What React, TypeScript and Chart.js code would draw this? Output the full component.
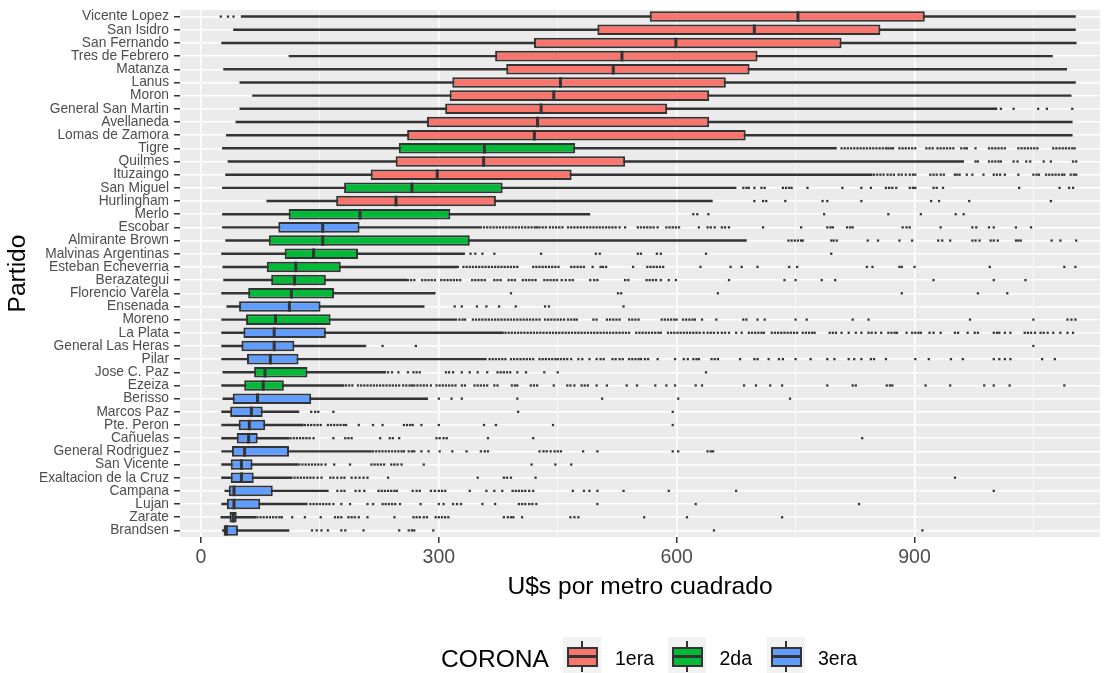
import React, { useEffect, useRef } from "react";
import { Chart, registerables } from "chart.js";

Chart.register(...registerables);

const FONT = "'Liberation Sans', Arial, Helvetica, sans-serif";

const categories = [
  "Vicente Lopez", "San Isidro", "San Fernando", "Tres de Febrero", "Matanza",
  "Lanus", "Moron", "General San Martin", "Avellaneda", "Lomas de Zamora",
  "Tigre", "Quilmes", "Ituzaingo", "San Miguel", "Hurlingham",
  "Merlo", "Escobar", "Almirante Brown", "Malvinas Argentinas", "Esteban Echeverria",
  "Berazategui", "Florencio Varela", "Ensenada", "Moreno", "La Plata",
  "General Las Heras", "Pilar", "Jose C. Paz", "Ezeiza", "Berisso",
  "Marcos Paz", "Pte. Peron", "Cañuelas", "General Rodriguez", "San Vicente",
  "Exaltacion de la Cruz", "Campana", "Lujan", "Zarate", "Brandsen",
];

const corona = [
  "1era", "1era", "1era", "1era", "1era",
  "1era", "1era", "1era", "1era", "1era",
  "2da", "1era", "1era", "2da", "1era",
  "2da", "3era", "2da", "2da", "2da",
  "2da", "2da", "3era", "2da", "3era",
  "3era", "3era", "2da", "2da", "3era",
  "3era", "3era", "3era", "3era", "3era",
  "3era", "3era", "3era", "3era", "3era",
];

const whiskerLow = [
  50.7, 41, 26, 111, 28.5, 49, 65, 49, 44, 32,
  27, 34, 31, 27, 83, 27, 27, 31, 26, 27.5,
  28.5, 26, 32.5, 26, 26, 26, 26, 27.5, 26, 27.5,
  26, 26, 26, 26, 26, 26, 30, 26, 25, 27,
];
const q1 = [
  566, 500, 420, 371, 385, 317, 313.6, 308, 285, 260,
  249.5, 245.5, 214, 180.5, 170.5, 110.5, 97.5, 85.5, 105.5, 83,
  88.5, 59.5, 48, 56.8, 53.5, 51, 58, 67, 54.5, 40,
  36.8, 47.5, 45, 39, 37.5, 37.5, 35, 32.6, 36, 28.5,
];
const median = [
  753, 698, 599, 531, 520, 453.5, 445, 429, 424.5, 420.5,
  357.5, 356.5, 298, 266, 246, 200.5, 153.5, 153.5, 142, 119.5,
  118, 114, 111.5, 94, 92.3, 92.3, 87.5, 80.7, 78.5, 71.3,
  63.5, 61, 60, 55, 51, 51, 41.6, 41.6, 40.7, 32,
];
const q3 = [
  913, 857, 808, 702, 692, 662, 641, 588, 641, 687,
  472, 535, 467.5, 380.5, 372, 314.5, 200, 339, 198, 176.3,
  157.5, 167.8, 150.8, 163.5, 157.5, 117.8, 123, 134.3, 104.5, 139,
  77.8, 81, 71.5, 111, 65, 66.5, 90.5, 74.7, 45, 46.6,
];
const whiskerHigh = [
  1103, 1103, 1104, 1074, 1092, 1103, 1097.6, 1004, 1099, 1099,
  801.5, 962, 846.7, 675, 645, 490.5, 354, 688, 332.5, 322.5,
  259.5, 295.5, 281.5, 322.8, 381.5, 208, 360, 233, 180.5, 286,
  123.5, 129, 111, 215, 122, 115, 160.6, 134, 69, 111,
];

const outliers: number[][] = [
  [25, 34, 41],
  [],
  [],
  [],
  [],
  [],
  [],
  [1009, 1025, 1056, 1067, 1099],
  [],
  [],
  [808, 812, 816, 820, 824, 828, 832, 836, 840, 844, 848, 852, 856, 860, 864, 867, 870, 873, 881, 885, 889, 893, 897, 901, 915, 919, 923, 929, 933, 937, 941, 945, 949, 959, 963, 966, 977, 994, 998, 1002, 1006, 1010, 1014, 1031, 1035, 1039, 1043, 1047, 1051, 1055, 1075, 1079, 1083, 1087, 1091, 1095, 1099, 1102],
  [977, 980, 994, 998, 1002, 1006, 1009, 1025, 1030, 1041, 1046, 1063, 1072, 1100, 1104],
  [849, 853, 857, 861, 866, 870, 874, 880, 884, 889, 894, 898, 901, 920, 924, 928, 933, 937, 951, 954, 957, 966, 973, 987, 1000, 1004, 1008, 1014, 1031, 1050, 1054, 1057, 1066, 1070, 1074, 1078, 1082, 1086, 1089, 1097, 1101, 1104],
  [684, 688, 691, 698, 707, 711, 734, 738, 742, 745, 765, 809, 833, 845, 864, 868, 872, 877, 894, 898, 901, 924, 928, 936, 1032, 1083, 1095, 1100],
  [698, 709, 713, 737, 784, 790, 833, 921, 931, 969, 1072],
  [621, 626, 640, 786, 867, 908, 952, 962],
  [357, 361, 365, 369, 373, 377, 381, 385, 389, 393, 397, 401, 405, 409, 413, 417, 421, 424, 427, 431, 435, 440, 444, 448, 452, 456, 463, 467, 471, 475, 479, 483, 487, 491, 495, 499, 503, 507, 511, 515, 519, 523, 528, 535, 551, 555, 559, 563, 567, 571, 576, 587, 591, 595, 599, 603, 628, 639, 643, 648, 657, 661, 666, 709, 757, 790, 794, 797, 815, 819, 822, 885, 890, 894, 933, 973, 978, 994, 1000, 1028, 1047],
  [741, 745, 749, 753, 757, 759, 795, 798, 802, 841, 854, 881, 897, 930, 935, 945, 973, 977, 982, 996, 1000, 1005, 1028, 1031, 1034, 1073, 1084, 1104],
  [340, 346, 355, 370, 429, 498, 503, 551, 555, 575, 580, 637, 795],
  [324, 331, 335, 339, 343, 347, 351, 355, 359, 363, 367, 371, 375, 379, 383, 387, 391, 395, 399, 419, 423, 427, 431, 435, 439, 443, 447, 451, 467, 471, 475, 479, 483, 494, 504, 507, 511, 545, 563, 567, 571, 575, 579, 583, 630, 668, 682, 702, 742, 752, 840, 847, 881, 884, 900, 995, 1089, 1103],
  [261, 265, 269, 279, 283, 287, 291, 295, 303, 307, 311, 315, 319, 323, 327, 342, 346, 350, 354, 358, 370, 374, 378, 388, 392, 396, 406, 410, 414, 418, 422, 433, 437, 441, 445, 449, 455, 460, 465, 469, 491, 496, 500, 535, 539, 562, 566, 570, 574, 580, 590, 599, 666, 736, 750, 783, 800, 924, 1000, 1040],
  [391, 526, 530, 652, 884, 980, 1017],
  [320, 329, 348, 360, 376, 397, 434, 439, 533],
  [326, 330, 333, 343, 347, 351, 355, 359, 363, 367, 371, 375, 379, 383, 387, 391, 395, 399, 403, 407, 411, 415, 419, 423, 427, 434, 438, 442, 446, 450, 454, 458, 463, 467, 471, 474, 495, 499, 512, 516, 520, 524, 528, 540, 544, 548, 552, 581, 585, 589, 593, 597, 600, 608, 612, 616, 620, 623, 632, 650, 684, 688, 702, 711, 750, 764, 822, 842, 970, 1050, 1093, 1098, 1103],
  [384, 388, 392, 396, 400, 404, 408, 412, 416, 420, 424, 428, 432, 436, 440, 444, 448, 452, 456, 460, 464, 468, 472, 476, 480, 484, 488, 492, 496, 500, 504, 508, 512, 516, 520, 524, 528, 532, 536, 540, 549, 553, 557, 561, 565, 569, 573, 577, 580, 589, 593, 597, 601, 605, 609, 613, 617, 621, 625, 629, 634, 639, 643, 647, 652, 657, 661, 666, 675, 682, 691, 695, 699, 703, 707, 710, 720, 724, 728, 732, 736, 740, 744, 748, 752, 759, 763, 767, 771, 774, 793, 797, 801, 808, 817, 826, 833, 842, 846, 851, 858, 867, 871, 875, 878, 890, 897, 901, 905, 908, 919, 924, 933, 951, 955, 967, 976, 980, 1000, 1004, 1007, 1014, 1021, 1039, 1043, 1047, 1052, 1059, 1063, 1068, 1075, 1084, 1093, 1100],
  [229, 271, 1050],
  [364, 368, 372, 376, 380, 384, 391, 395, 399, 403, 407, 411, 415, 419, 427, 431, 435, 439, 443, 447, 450, 454, 458, 462, 467, 476, 481, 490, 499, 504, 508, 519, 523, 528, 532, 540, 544, 548, 552, 555, 560, 564, 576, 598, 609, 614, 621, 625, 628, 644, 648, 652, 680, 698, 702, 716, 729, 734, 750, 769, 790, 799, 817, 824, 833, 845, 849, 864, 901, 918, 946, 961, 1000, 1007, 1014, 1021, 1061, 1077],
  [236, 241, 249, 261, 268, 272, 276, 309, 313, 318, 329, 339, 349, 361, 374, 378, 382, 386, 390, 399, 410, 433, 450, 637],
  [183, 187, 191, 198, 202, 206, 210, 214, 218, 222, 226, 230, 234, 238, 242, 246, 250, 255, 259, 263, 266, 269, 273, 277, 281, 285, 290, 297, 301, 305, 309, 313, 317, 321, 329, 333, 345, 349, 353, 357, 361, 370, 374, 392, 396, 399, 416, 420, 424, 445, 462, 466, 471, 480, 484, 488, 499, 512, 537, 550, 573, 587, 598, 624, 632, 685, 700, 718, 733, 790, 822, 826, 865, 869, 872, 914, 945, 988, 1000, 1020, 1089],
  [300, 316, 329, 399, 506, 602, 743],
  [139, 144, 148, 167, 400, 595],
  [131, 135, 139, 143, 147, 151, 160, 164, 168, 172, 176, 180, 183, 199, 217, 229, 256, 260, 264, 267, 278, 300, 357, 372, 444, 595],
  [113, 117, 121, 125, 129, 133, 137, 142, 167, 182, 186, 190, 226, 238, 242, 250, 297, 301, 306, 310, 362, 419, 834],
  [217, 221, 225, 229, 233, 237, 241, 245, 249, 253, 256, 262, 266, 269, 278, 287, 301, 317, 335, 353, 358, 362, 427, 432, 436, 441, 446, 450, 454, 482, 500, 595, 602, 639, 643, 646],
  [124, 128, 132, 136, 140, 144, 148, 152, 157, 168, 188, 215, 219, 223, 227, 231, 240, 244, 248, 253, 281, 417, 447, 467],
  [118, 122, 126, 130, 134, 138, 142, 147, 152, 163, 167, 172, 177, 181, 190, 195, 200, 205, 210, 236, 349, 382, 386, 391, 422, 951],
  [172, 177, 181, 195, 200, 206, 224, 228, 232, 236, 240, 244, 247, 267, 272, 276, 290, 295, 300, 304, 308, 339, 360, 370, 380, 393, 397, 401, 405, 409, 414, 419, 469, 483, 490, 500, 533, 590, 675, 1000],
  [138, 142, 146, 150, 154, 158, 162, 167, 177, 188, 210, 217, 229, 233, 237, 241, 245, 251, 277, 300, 306, 318, 323, 328, 355, 371, 401, 405, 409, 414, 418, 423, 500, 624, 830],
  [71, 75, 79, 83, 87, 91, 95, 99, 102, 115, 131, 151, 169, 173, 177, 186, 190, 194, 199, 210, 244, 268, 272, 276, 281, 285, 296, 300, 304, 308, 312, 382, 387, 391, 394, 405, 466, 471, 476, 559, 613, 733],
  [140, 146, 152, 160, 177, 182, 205, 250, 262, 266, 269, 293, 647, 910],
];

const xTickLabels = [0, 300, 600, 900];
const groups = ["1era", "2da", "3era"];
const groupColors: Record<string, string> = {
  "1era": "#F8766D",
  "2da": "#00BA38",
  "3era": "#619CFF",
};

const DARK = "#333333";

const panelBg = {
  id: "panelBg",
  beforeDraw(chart: any) {
    const { ctx, chartArea } = chart;
    ctx.save();
    ctx.fillStyle = "#EBEBEB";
    ctx.fillRect(chartArea.left, chartArea.top, chartArea.right - chartArea.left, chartArea.bottom - chartArea.top);
    ctx.restore();
  },
};

const medianLines = {
  id: "medianLines",
  afterDatasetDraw(chart: any, args: any) {
    if (args.index !== 1) return;
    const { ctx } = chart;
    const xScale = chart.scales.x;
    ctx.save();
    ctx.strokeStyle = DARK;
    ctx.lineWidth = 3;
    ctx.lineCap = "butt";
    args.meta.data.forEach((el: any, i: number) => {
      const x = xScale.getPixelForValue(median[i]);
      const h = el.height;
      ctx.beginPath();
      ctx.moveTo(x, el.y - h / 2);
      ctx.lineTo(x, el.y + h / 2);
      ctx.stroke();
    });
    ctx.restore();
  },
};

function LegendKey({ color, left }: { color: string; left: number }) {
  return (
    <div style={{ position: "absolute", left, top: 637, width: 38, height: 38, background: "#F2F2F2" }}>
      <div style={{ position: "absolute", left: 18.1, top: 4, width: 1.8, height: 6, background: DARK }} />
      <div style={{ position: "absolute", left: 18.1, top: 29, width: 1.8, height: 6, background: DARK }} />
      <div
        style={{
          position: "absolute",
          left: 3.5,
          top: 9.5,
          width: 31,
          height: 20,
          boxSizing: "border-box",
          border: `2px solid ${DARK}`,
          background: color,
        }}
      />
      <div style={{ position: "absolute", left: 3.5, top: 18.25, width: 31, height: 2.5, background: DARK }} />
    </div>
  );
}

export default function App() {
  const ref = useRef<HTMLCanvasElement>(null);

  useEffect(() => {
    const outlierPoints = outliers.flatMap((vals, i) => vals.map((v) => ({ x: v, y: categories[i] })));
    const chart = new Chart(ref.current as HTMLCanvasElement, {
      type: "bar",
      data: {
        labels: categories,
        datasets: [
          {
            label: "whiskers",
            data: categories.map((_, i) => [whiskerLow[i], whiskerHigh[i]]) as any,
            backgroundColor: DARK,
            borderWidth: 0,
            barThickness: 1.8,
            grouped: false,
            order: 3,
          } as any,
          {
            label: "boxes",
            data: categories.map((_, i) => [q1[i], q3[i]]) as any,
            backgroundColor: corona.map((c) => groupColors[c]),
            borderColor: DARK,
            borderWidth: 2,
            borderSkipped: false,
            barPercentage: 0.8,
            categoryPercentage: 1,
            grouped: false,
            order: 2,
          } as any,
          {
            type: "scatter",
            label: "outliers",
            data: outlierPoints as any,
            pointStyle: "rect",
            pointRadius: 1.6,
            pointBackgroundColor: DARK,
            backgroundColor: DARK,
            pointBorderWidth: 0,
            borderWidth: 0,
            showLine: false,
            order: 1,
          } as any,
        ],
      },
      options: {
        indexAxis: "y",
        responsive: false,
        animation: false,
        devicePixelRatio: 1,
        events: [],
        layout: { padding: { top: 10, right: 8, bottom: 63, left: 0 } },
        plugins: {
          legend: { display: false },
          tooltip: { enabled: false },
        },
        scales: {
          x: {
            type: "linear",
            min: -26.5,
            max: 1134,
            border: { display: false },
            ticks: {
              stepSize: 150,
              includeBounds: false,
              autoSkip: false,
              maxRotation: 0,
              color: "#4D4D4D",
              font: { family: FONT, size: 19.5 },
              padding: 3,
              callback: (v: any) => (xTickLabels.includes(Number(v)) ? String(v) : ""),
            },
            grid: {
              color: "#FFFFFF",
              lineWidth: (ctx: any) => (ctx.tick && xTickLabels.includes(ctx.tick.value) ? 1.5 : 0.75),
              tickColor: (ctx: any) => (ctx.tick && xTickLabels.includes(ctx.tick.value) ? DARK : "rgba(0,0,0,0)"),
              tickLength: 6,
              tickWidth: 1.5,
            },
            title: {
              display: true,
              text: "U$s por metro cuadrado",
              color: "#000000",
              font: { family: FONT, size: 24.6 },
              padding: { top: 0, bottom: 8 },
            },
            afterFit: (s: any) => {
              s.height = 73;
              s.paddingLeft = 0;
              s.paddingRight = 0;
            },
          } as any,
          y: {
            type: "category",
            offset: true,
            border: { display: false },
            ticks: {
              autoSkip: false,
              color: "#4D4D4D",
              font: { family: FONT, size: 13.75 },
              padding: 5,
            },
            grid: {
              color: "#FFFFFF",
              lineWidth: 1.5,
              tickColor: DARK,
              tickLength: 6,
              tickWidth: 1.5,
              offset: false,
            },
            title: {
              display: true,
              text: "Partido",
              color: "#000000",
              font: { family: FONT, size: 24.6 },
              padding: { top: 3, bottom: 0 },
            },
            afterFit: (s: any) => {
              s.width = 180;
              s.paddingTop = 0;
              s.paddingBottom = 0;
            },
          } as any,
        },
      },
      plugins: [panelBg, medianLines],
    });
    return () => chart.destroy();
  }, []);

  const keyLefts = [563, 668, 767];
  const textLefts = [615, 719.5, 818];

  return (
    <div
      style={{
        position: "absolute",
        left: 0,
        top: 0,
        width: 1108,
        height: 673,
        overflow: "hidden",
        background: "#FFFFFF",
        fontFamily: FONT,
      }}
    >
      <canvas ref={ref} width={1108} height={673} style={{ display: "block", width: 1108, height: 673 }} />
      <div
        style={{
          position: "absolute",
          left: 441,
          top: 646.5,
          fontSize: 24.6,
          lineHeight: "24.6px",
          color: "#000",
          whiteSpace: "nowrap",
        }}
      >
        CORONA
      </div>
      {groups.map((g, i) => (
        <React.Fragment key={g}>
          <LegendKey color={groupColors[g]} left={keyLefts[i]} />
          <div
            style={{
              position: "absolute",
              left: textLefts[i],
              top: 649,
              fontSize: 19.5,
              lineHeight: "19.5px",
              color: "#000",
              whiteSpace: "nowrap",
            }}
          >
            {g}
          </div>
        </React.Fragment>
      ))}
    </div>
  );
}
